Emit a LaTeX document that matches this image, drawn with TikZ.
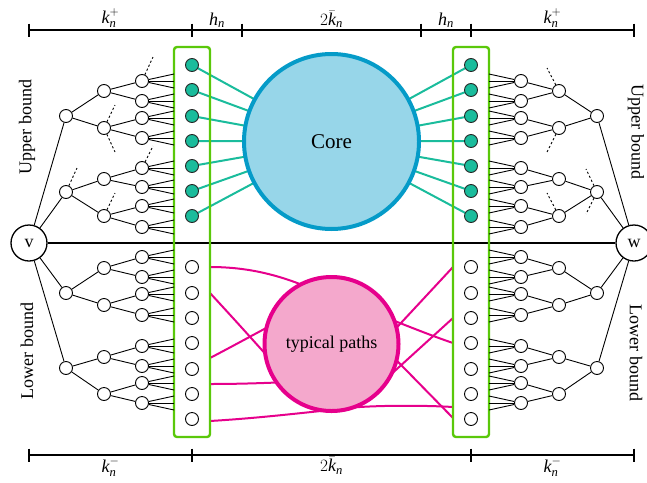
\documentclass[tikz,border=0pt]{standalone}
\usepackage{fontspec}
\setmainfont{Liberation Serif}
\usepackage{amsmath}
\usetikzlibrary{calc}
\definecolor{boxgreen}{RGB}{90,200,10}
\definecolor{tealc}{RGB}{26,188,156}
\definecolor{corefill}{RGB}{151,214,233}
\definecolor{corestroke}{RGB}{5,155,200}
\definecolor{pinkfill}{RGB}{244,168,204}
\definecolor{pinkc}{RGB}{230,0,140}
\pgfdeclarelayer{bg}
\pgfsetlayers{bg,main}
\newcommand{\ik}{\text{\itshape k}}
\newcommand{\iN}{\text{\itshape n}}
\newcommand{\ih}{\text{\itshape h}}
\begin{document}
\begin{tikzpicture}[x=1pt,y=-1pt,
  every node/.style={font=\fontsize{18}{21}\selectfont},
  leaf/.style={circle,draw,fill=white,minimum size=13pt,inner sep=0pt,line width=0.9pt},
  tealnode/.style={leaf,fill=tealc,draw=black!85},
  endpt/.style={circle,draw,fill=white,minimum size=36pt,inner sep=0pt,line width=1.3pt},
  treeedge/.style={line width=0.9pt},
  dashline/.style={line width=0.9pt,dash pattern=on 2.2pt off 2.2pt},
  ruler/.style={line width=2.3pt},
  tealline/.style={tealc,line width=2pt},
  pinkline/.style={pinkc,line width=2pt},
  frame/.style={draw=boxgreen,line width=2.4pt,rounded corners=3pt}]
\useasboundingbox (0,0) rectangle (647,482);

% ---------- rulers ----------
\coordinate (T0) at (29,30);  \coordinate (T1) at (192,30);
\coordinate (T2) at (242,30); \coordinate (T3) at (421,30);
\coordinate (T4) at (471,30); \coordinate (T5) at (634,30);
\draw[ruler] (T0) -- (T5);
\foreach \p in {T0,T1,T2,T3,T4,T5}
  \draw[ruler] ($(\p)+(0,-6.5)$) -- ($(\p)+(0,6.5)$);
\node[above,inner sep=2pt] (lt1) at ($(T0)!0.5!(T1)$) {$\ik_{\iN}^{+}$};
\node[above,inner sep=2pt] (lt2) at ($(T1)!0.5!(T2)$) {$\ih_{\iN}$};
\node[above,inner sep=2pt] (lt3) at ($(T2)!0.5!(T3)$) {$2\bar{\ik}_{\iN}$};
\node[above,inner sep=2pt] (lt4) at ($(T3)!0.5!(T4)$) {$\ih_{\iN}$};
\node[above,inner sep=2pt] (lt5) at ($(T4)!0.5!(T5)$) {$\ik_{\iN}^{+}$};

\coordinate (B0) at (29,455);  \coordinate (B1) at (192,455);
\coordinate (B2) at (471,455); \coordinate (B3) at (634,455);
\draw[ruler] (B0) -- (B3);
\foreach \p in {B0,B1,B2,B3}
  \draw[ruler] ($(\p)+(0,-6.5)$) -- ($(\p)+(0,6.5)$);
\node[below,inner sep=2pt] (lb1) at ($(B0)!0.5!(B1)$) {$\ik_{\iN}^{-}$};
\node[below,inner sep=2pt] (lb2) at ($(B1)!0.5!(B2)$) {$2\bar{\ik}_{\iN}$};
\node[below,inner sep=2pt] (lb3) at ($(B2)!0.5!(B3)$) {$\ik_{\iN}^{-}$};

% ---------- endpoints and main line ----------
\node[endpt] (v) at (29,243) {v};
\node[endpt] (w) at (634,243) {w};
\draw[ruler] (v) -- (w);

% ---------- boxes ----------
\draw[frame] (174,47) rectangle (210,437);
\draw[frame] (453,47) rectangle (489,437);

% ---------- core and typical paths ----------
\node[circle,draw=corestroke,fill=corefill,line width=4pt,minimum size=175pt,inner sep=0pt]
  (core) at (331.5,141.5) {\fontsize{21}{24}\selectfont Core};
\node[circle,draw=pinkc,fill=pinkfill,line width=4pt,minimum size=134pt,inner sep=0pt]
  (typ) at (331.5,344) {typical paths};

% ---------- column nodes ----------
\foreach \y [count=\i] in {65,90,116,141,166,191,216} {
  \node[tealnode] (Lt\i) at (192,\y) {};
  \node[tealnode] (Rt\i) at (471,\y) {};
  \begin{pgfonlayer}{bg}
    \draw[tealline] (Lt\i.center) -- (core.center);
    \draw[tealline] (Rt\i.center) -- (core.center);
  \end{pgfonlayer}
}
\foreach \y [count=\i] in {267,293,318,343,369,394,419} {
  \node[leaf] (Lu\i) at (192,\y) {};
  \node[leaf] (Ru\i) at (471,\y) {};
}

% ---------- typical paths (hidden middle parts under the circle) ----------
\coordinate (pl1) at (210,267); \coordinate (pl2) at (210,293);
\coordinate (pl3) at (210,358); \coordinate (pl4) at (210,384);
\coordinate (pl5) at (210,421);
\coordinate (pr1) at (453,267); \coordinate (pr2) at (453,318);
\coordinate (pr3) at (453,343); \coordinate (pr4) at (453,407);
\coordinate (pr5) at (453,418);
\begin{pgfonlayer}{bg}
\draw[pinkline] (pl1) .. controls (250,267) and (280,276) .. (305,286)
   .. controls (330,296) and (355,306) .. (382,316)
   .. controls (410,327) and (435,337) .. (pr3);
\draw[pinkline] (pl2) .. controls (235,320) and (262,350) .. (285,376)
   .. controls (305,397) and (340,303) .. (360,323) -- (pr5);
\draw[pinkline] (pl3) .. controls (235,345) and (262,330) .. (285,318)
   .. controls (320,300) and (360,360) .. (387,338) -- (pr1);
\draw[pinkline] (pl4) .. controls (240,384) and (265,383) .. (290,382)
   .. controls (320,381) and (360,400) .. (376,388) -- (pr2);
\draw[pinkline] (pl5) .. controls (260,418) and (300,413) .. (331,410)
   .. controls (360,405) and (420,405) .. (pr4);
\end{pgfonlayer}

% ---------- trees ----------
\foreach \y [count=\i] in {81,101,118,138,168,187,206,227,257,277,294,315,346,366,383,403} {
  \node[leaf] (Lc\i) at (142,\y) {};
  \node[leaf] (Rc\i) at (521,\y) {};
  \foreach \d in {-7,0,7} {
    \draw[treeedge] (Lc\i) -- (174,{\y+\d});
    \draw[treeedge] (Rc\i) -- (489,{\y+\d});
  }
}
\foreach \y [count=\i] in {91,128,179,216,268,305,357,394} {
  \pgfmathtruncatemacro{\ja}{2*\i-1}
  \pgfmathtruncatemacro{\jb}{2*\i}
  \node[leaf] (Lb\i) at (104,\y) {};
  \node[leaf] (Rb\i) at (559,\y) {};
  \draw[treeedge] (Lb\i) -- (Lc\ja);
  \draw[treeedge] (Lb\i) -- (Lc\jb);
  \draw[treeedge] (Rb\i) -- (Rc\ja);
  \draw[treeedge] (Rb\i) -- (Rc\jb);
}
\foreach \y [count=\i] in {116,192,293,368} {
  \pgfmathtruncatemacro{\ja}{2*\i-1}
  \pgfmathtruncatemacro{\jb}{2*\i}
  \node[leaf] (La\i) at (66,\y) {};
  \node[leaf] (Ra\i) at (597,\y) {};
  \draw[treeedge] (La\i) -- (Lb\ja);
  \draw[treeedge] (La\i) -- (Lb\jb);
  \draw[treeedge] (Ra\i) -- (Rb\ja);
  \draw[treeedge] (Ra\i) -- (Rb\jb);
  \draw[treeedge] (v) -- (La\i);
  \draw[treeedge] (w) -- (Ra\i);
}

% ---------- pruned branches ----------
\draw[dashline] (Lc1) -- +(11,-24);
\draw[dashline] (Lb2) -- +(11,-23);
\draw[dashline] (Lb2) -- +(11,24);
\draw[dashline] (La2) -- +(11,-24);
\draw[dashline] (Lc5) -- +(11,-22);
\draw[dashline] (Lb4) -- +(11,-23);
\draw[dashline] (Rb1) -- +(-12,-23);
\draw[dashline] (Rb2) -- +(-12,24);
\draw[dashline] (Ra2) -- +(-11,-23);
\draw[dashline] (Ra2) -- +(-11,22);
\draw[dashline] (Rb4) -- +(-12,-23);

% ---------- side labels ----------
\node[rotate=90] (ubl) at (27,127) {Upper bound};
\node[rotate=90] (lbl) at (27,351) {Lower bound};
\node[rotate=-90] (ubr) at (636,132) {Upper bound};
\node[rotate=-90] (lbr) at (636,353) {Lower bound};
\end{tikzpicture}
\end{document}
